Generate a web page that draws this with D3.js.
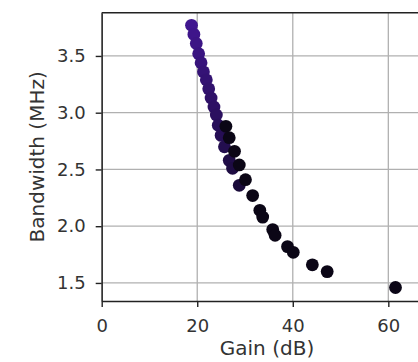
<!DOCTYPE html>
<html>
<head>
<meta charset="utf-8">
<script src="https://cdn.jsdelivr.net/npm/d3@7"></script>
<style>
  body { margin: 0; background: #fff; }
  svg { display: block; font-family: "DejaVu Sans", sans-serif; }
</style>
</head>
<body>
<div id="chart"></div>
<script>
// purple branch (colour fades toward black going down)
var gainA = [18.8, 19.3, 19.8, 20.3, 20.8, 21.3, 21.9, 22.4, 22.9, 23.5, 24.0, 24.4, 25.0, 25.7, 26.7, 27.4, 28.8];
var bwA   = [3.77, 3.69, 3.61, 3.52, 3.44, 3.36, 3.29, 3.21, 3.13, 3.05, 2.98, 2.89, 2.80, 2.70, 2.58, 2.51, 2.36];
// black branch
var gainB = [26.0, 26.7, 27.8, 28.8, 30.1, 31.6, 33.1, 33.7, 35.8, 36.3, 38.9, 40.1, 44.1, 47.2, 61.5];
var bwB   = [2.88, 2.78, 2.66, 2.54, 2.41, 2.27, 2.14, 2.08, 1.97, 1.92, 1.82, 1.77, 1.66, 1.60, 1.46];

var xTicks = [0, 20, 40, 60];
var yTicks = [1.5, 2.0, 2.5, 3.0, 3.5];

var width = 418, height = 362;

var svg = d3.select("#chart").append("svg")
    .attr("width", width)
    .attr("height", height);

// axes frame runs past the right edge of the picture
var x = d3.scaleLinear().domain([0, 70]).range([101.7, 101.7 + 70 * 4.777]);
var y = d3.scaleLinear().domain([1.341, 3.881]).range([301, 12.7]);

var plotLeft = x(0), plotTop = y.range()[1], plotBottom = y.range()[0];

// grid
svg.append("g").selectAll("line").data(xTicks).join("line")
    .attr("x1", d => x(d)).attr("x2", d => x(d))
    .attr("y1", plotTop).attr("y2", plotBottom)
    .attr("stroke", "#b0b0b0").attr("stroke-width", 1.3);
svg.append("g").selectAll("line").data(yTicks).join("line")
    .attr("x1", plotLeft).attr("x2", width + 5)
    .attr("y1", d => y(d)).attr("y2", d => y(d))
    .attr("stroke", "#b0b0b0").attr("stroke-width", 1.3);

// points
var colA = d3.scaleLinear().domain([2.36, 3.77]).range(["#1a0b3a", "#40168f"]);
var ptsA = gainA.map((g, i) => ({g: g, b: bwA[i]}));
var ptsB = gainB.map((g, i) => ({g: g, b: bwB[i]}));

svg.append("g").selectAll("circle").data(ptsA).join("circle")
    .attr("cx", d => x(d.g)).attr("cy", d => y(d.b)).attr("r", 6.4)
    .attr("fill", d => colA(d.b));
svg.append("g").selectAll("circle").data(ptsB).join("circle")
    .attr("cx", d => x(d.g)).attr("cy", d => y(d.b)).attr("r", 6.4)
    .attr("fill", "#0b0616");

// axes
var xAxis = svg.append("g").attr("transform", "translate(0," + plotBottom + ")")
    .call(d3.axisBottom(x).tickValues(xTicks).tickFormat(d3.format("d")).tickSize(6).tickPadding(12).tickSizeOuter(0));
var yAxis = svg.append("g").attr("transform", "translate(" + plotLeft + ",0)")
    .call(d3.axisLeft(y).tickValues(yTicks).tickFormat(d3.format(".1f")).tickSize(6).tickPadding(10).tickSizeOuter(0));

[xAxis, yAxis].forEach(function(a) {
  a.select(".domain").attr("stroke", "#222").attr("stroke-width", 1.4);
  a.selectAll(".tick line").attr("stroke", "#222").attr("stroke-width", 1.4);
  a.selectAll(".tick text").attr("fill", "#333").style("font-size", "18px")
      .style("font-family", "DejaVu Sans, sans-serif");
});

// top spine
svg.append("line")
    .attr("x1", plotLeft).attr("x2", width + 5)
    .attr("y1", plotTop).attr("y2", plotTop)
    .attr("stroke", "#222").attr("stroke-width", 1.4);

// labels
svg.append("text")
    .attr("x", 267).attr("y", 355)
    .attr("text-anchor", "middle")
    .style("font-size", "20px").attr("fill", "#333")
    .text("Gain (dB)");

svg.append("text")
    .attr("transform", "translate(44," + ((plotTop + plotBottom) / 2) + ") rotate(-90)")
    .attr("text-anchor", "middle")
    .style("font-size", "20px").attr("fill", "#333")
    .text("Bandwidth (MHz)");
</script>
</body>
</html>
